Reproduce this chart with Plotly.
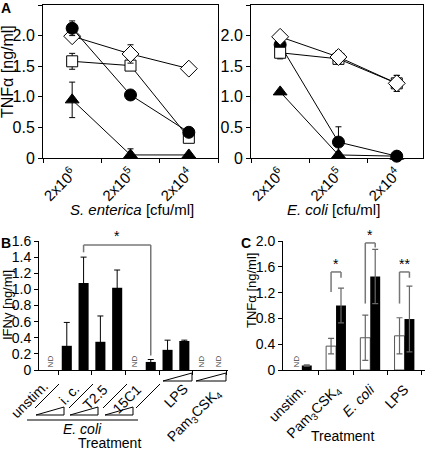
import plotly.graph_objects as go

W, H = 428, 451
FONT = "Liberation Sans"

# ---------------- data ----------------
doses = ["2x10<sup>6</sup>", "2x10<sup>5</sup>", "2x10<sup>4</sup>"]

sent_circle = [2.12, 1.03, 0.42]
sent_circle_err = [0.12, 0.06, 0.04]
sent_diamond = [1.99, 1.70, 1.46]
sent_diamond_err = [0.04, 0.15, 0.02]
sent_square = [1.58, 1.51, 0.33]
sent_square_err = [0.13, 0.05, 0.05]
sent_triangle = [0.95, 0.05, 0.05]
sent_triangle_err = [0.29, 0.10, 0.02]

ecoli_circle = [1.85, 0.26, 0.03]
ecoli_circle_err = [0.05, 0.25, 0.02]
ecoli_diamond = [1.98, 1.65, 1.22]
ecoli_diamond_err = [0.03, 0.10, 0.13]
ecoli_square = [1.72, 1.62, 1.22]
ecoli_square_err = [0.10, 0.05, 0.13]
ecoli_triangle = [1.08, 0.05, 0.03]
ecoli_triangle_err = [0.03, 0.02, 0.02]

a_yticks = [0, 0.5, 1.0, 1.5, 2.0, 2.5]
a_yticktext = ["0", "0.5", "1.0", "1.5", "2.0", "2.5"]

b_groups = ["unstim.", "i. c.", "T2.5", "15C1", "LPS", "Pam<sub>3</sub>CSK<sub>4</sub>"]
b_group_slots = [1, 2, 2, 2, 2, 2]
b_values = [None, 0.30, 1.08, 0.35, 1.02, None, 0.10, 0.25, 0.36, None, None]
b_errors = [None, 0.29, 0.32, 0.32, 0.22, None, 0.03, 0.12, 0.01, None, None]
b_nd = [0, 5, 9, 10]
b_yticks = [0, 0.2, 0.4, 0.6, 0.8, 1.0, 1.2, 1.4, 1.6]
b_yticktext = ["0", "0.2", "0.4", "0.6", "0.8", "1.0", "1.2", "1.4", "1.6"]

c_cats = ["unstim.", "Pam<sub>3</sub>CSK<sub>4</sub>", "<i>E. coli</i>", "LPS"]
c_open = [None, 0.37, 0.50, 0.53]
c_open_err = [None, 0.12, 0.35, 0.28]
c_filled = [0.07, 1.00, 1.45, 0.79]
c_filled_err = [0.01, 0.27, 0.42, 0.51]
c_sig = ["*", "*", "**"]
c_yticks = [0, 0.4, 0.8, 1.2, 1.6, 2.0]
c_yticktext = ["0", "0.4", "0.8", "1.2", "1.6", "2.0"]


def X(p):
    return p / W


def Y(p):
    return 1 - p / H


fig = go.Figure()

# ---------------- panel A ----------------
def add_series(xa, ya, y, err, symbol, fill, size):
    fig.add_trace(go.Scatter(
        x=list(range(len(y))), y=y, xaxis=xa, yaxis=ya,
        mode="lines+markers",
        line=dict(color="black", width=1),
        marker=dict(symbol=symbol, size=size, color=fill,
                    line=dict(color="black", width=1)),
        error_y=dict(type="data", array=err, color="black", thickness=1, width=3),
        showlegend=False, cliponaxis=False,
    ))

add_series("x", "y", sent_triangle, sent_triangle_err, "triangle-up", "black", 12)
add_series("x", "y", sent_square, sent_square_err, "square", "white", 11)
add_series("x", "y", sent_diamond, sent_diamond_err, "diamond", "white", 13)
add_series("x", "y", sent_circle, sent_circle_err, "circle", "black", 12)

add_series("x2", "y2", ecoli_triangle, ecoli_triangle_err, "triangle-up", "black", 12)
add_series("x2", "y2", ecoli_circle, ecoli_circle_err, "circle", "black", 12)
add_series("x2", "y2", ecoli_square, ecoli_square_err, "square", "white", 11)
add_series("x2", "y2", ecoli_diamond, ecoli_diamond_err, "diamond", "white", 13)

# ---------------- panel B ----------------
b_x = list(range(len(b_values)))
fig.add_trace(go.Bar(
    x=b_x, y=b_values, xaxis="x3", yaxis="y3", width=0.6,
    marker=dict(color="black", line=dict(width=0)),
    error_y=dict(type="data", array=b_errors, symmetric=True, color="black",
                 thickness=1, width=3),
    showlegend=False,
))

# group boundaries of panel B
b_bounds, pos = [], 0
for n in b_group_slots:
    b_bounds.append(pos + n - 0.5)
    pos += n

# ---------------- panel C ----------------
c_x = list(range(len(c_cats)))
fig.add_trace(go.Bar(
    x=c_x, y=c_open, xaxis="x4", yaxis="y4", width=0.29, offset=-0.29,
    marker=dict(color="white", line=dict(color="#555", width=1)),
    error_y=dict(type="data", array=c_open_err, color="#666", thickness=1.2, width=3),
    showlegend=False,
))
fig.add_trace(go.Bar(
    x=c_x, y=c_filled, xaxis="x4", yaxis="y4", width=0.29, offset=0,
    marker=dict(color="black", line=dict(width=0)),
    error_y=dict(type="data", array=c_filled_err, color="#666", thickness=1.2, width=3),
    showlegend=False,
))

fig.update_layout(barmode="overlay")

# ---------------- axes ----------------
def tf(size):
    return dict(family=FONT, size=size, color="black")

common = dict(showline=True, linecolor="black", linewidth=1, showgrid=False,
              zeroline=False, tickcolor="black", automargin=False)

ya_dom = [Y(158), Y(5)]
yb_dom = [Y(370), Y(241)]

fig.update_layout(
    xaxis=dict(**common, domain=[X(43), X(218)], range=[-0.5, 2.5], anchor="y",
               tickvals=[0, 1, 2], ticktext=doses, ticks="", tickangle=-45, mirror=True,
               tickfont=tf(15),
               minor=dict(tickvals=[-0.5, 0.5, 1.5, 2.5], ticks="outside", ticklen=4,
                          tickcolor="black")),
    yaxis=dict(**common, domain=ya_dom, range=[0, 2.5], anchor="x",
               tickvals=a_yticks, ticktext=a_yticktext, ticks="outside", ticklen=4,
               mirror=True, tickfont=tf(16)),
    xaxis2=dict(**common, domain=[X(251), X(423)], range=[-0.5, 2.45], anchor="y2",
                tickvals=[0, 1, 2], ticktext=doses, ticks="", tickangle=-45, mirror=True,
                tickfont=tf(15),
                minor=dict(tickvals=[-0.5, 0.5, 1.5], ticks="outside", ticklen=4,
                           tickcolor="black")),
    yaxis2=dict(**common, domain=ya_dom, range=[0, 2.5], anchor="x2",
                tickvals=a_yticks, ticktext=a_yticktext, ticks="outside", ticklen=4,
                mirror=True, tickfont=tf(16)),
    xaxis3=dict(**common, domain=[X(39), X(228)], range=[-0.655, 10.6], anchor="y3",
                showticklabels=False, ticks="",
                minor=dict(tickvals=b_bounds, ticks="outside", ticklen=4,
                           tickcolor="black")),
    yaxis3=dict(**common, domain=yb_dom, range=[0, 1.6], anchor="x3",
                tickvals=b_yticks, ticktext=b_yticktext, ticks="outside", ticklen=4,
                tickfont=tf(14)),
    xaxis4=dict(**common, domain=[X(283), X(425)], range=[-0.55, 3.6], anchor="y4",
                tickvals=c_x, ticktext=c_cats, ticks="", tickangle=-45,
                tickfont=tf(14), ticklabelstandoff=5,
                minor=dict(tickvals=[0.5, 1.5, 2.5, 3.5], ticks="outside", ticklen=4,
                           tickcolor="black")),
    yaxis4=dict(**common, domain=yb_dom, range=[0, 2.0], anchor="x4",
                tickvals=c_yticks, ticktext=c_yticktext, ticks="outside", ticklen=4,
                tickfont=tf(14)),
)

# ---------------- annotations ----------------
ann = []
def text(x, y, s, size=15, angle=0, xanchor="center", yanchor="middle", color="black",
         xref="paper", yref="paper"):
    ann.append(dict(x=x, y=y, xref=xref, yref=yref, text=s, showarrow=False,
                    textangle=angle, xanchor=xanchor, yanchor=yanchor, borderpad=0,
                    font=dict(family=FONT, size=size, color=color)))

text(X(0), Y(8), "<b>A</b>", size=14, xanchor="left")
text(X(0), Y(243), "<b>B</b>", size=14, xanchor="left")
text(X(240), Y(243), "<b>C</b>", size=14, xanchor="left")

text(X(7), Y(72), "TNFα [ng/ml]", size=16, angle=-90)
text(X(132), Y(210), "<i>S. enterica</i> [cfu/ml]")
text(X(333), Y(210), "<i>E. coli</i> [cfu/ml]")

text(X(7), Y(305), "IFNγ [ng/ml]", size=13, angle=-90)
text(X(82), Y(429), "<i>E. coli</i>", size=14)
text(X(110), Y(443), "Treatment", size=14)

text(X(251), Y(291), "TNFα [ng/ml]", size=13, angle=-90)
text(X(342), Y(436), "Treatment", size=14)

# rotated group labels of panel B (top-right corner of each label box)
b_label_corner = [(52, 377), (84, 379), (112, 380), (146, 380), (192, 380), (227, 383)]
for s, (cx, cy) in zip(b_groups, b_label_corner):
    text(X(cx), Y(cy), s, size=14, angle=-45, xanchor="right", yanchor="top")

# ND labels
for k in b_nd:
    text(k, 0.02, "ND", size=8, angle=-90, yanchor="bottom", color="#444",
         xref="x3", yref="y3")
text(-0.145, 0.02, "ND", size=8, angle=-90, yanchor="bottom", color="#444",
     xref="x4", yref="y4")

# significance stars
text(4, 1.55, "*", size=14, yanchor="bottom", xref="x3", yref="y3")
c_br = [(1, 1.21, 1.52, 1.43), (2, 1.03, 1.97, 1.90), (3, 1.03, 1.52, 1.43)]
for (k, yl, yt, yr), s in zip(c_br, c_sig):
    text(k, yt - 0.02, s, size=14, yanchor="bottom", xref="x4", yref="y4")

fig.update_layout(annotations=ann)

# ---------------- shapes ----------------
shapes = []
def line(x0, y0, x1, y1, xref, yref, color="#777", width=1.5):
    shapes.append(dict(type="line", x0=x0, y0=y0, x1=x1, y1=y1, xref=xref, yref=yref,
                       line=dict(color=color, width=width)))

# B bracket
line(2, 1.46, 2, 1.55, "x3", "y3")
line(2, 1.55, 6, 1.55, "x3", "y3")
line(6, 1.55, 6, 0.18, "x3", "y3")
# C brackets
for k, yl, yt, yr in c_br:
    line(k - 0.145, yl, k - 0.145, yt, "x4", "y4")
    line(k - 0.145, yt, k + 0.145, yt, "x4", "y4")
    line(k + 0.145, yt, k + 0.145, yr, "x4", "y4")

# slashes under B axis
for t in [59, 93, 127, 160]:
    line(X(t - 24), Y(408), X(t), Y(384), "paper", "paper", color="black", width=1)

def wedge(x0, x1, yb, yt):
    shapes.append(dict(type="path", xref="paper", yref="paper",
                       path=f"M {X(x0)},{Y(yb)} L {X(x1)},{Y(yb)} L {X(x1)},{Y(yt)} Z",
                       line=dict(color="black", width=1), fillcolor="rgba(0,0,0,0)"))

for x0 in [36, 70, 105]:
    wedge(x0, x0 + 28, 415, 407)
wedge(163, 192, 381, 373)
wedge(196, 226, 381, 373)
line(X(27), Y(420), X(138), Y(420), "paper", "paper", color="black", width=1)

fig.update_layout(shapes=shapes)

fig.update_layout(
    width=W, height=H, autosize=False,
    margin=dict(l=0, r=0, t=0, b=0),
    paper_bgcolor="white", plot_bgcolor="white",
    font=dict(family=FONT, size=14, color="black"),
)

fig.write_html("out.html", config={"displayModeBar": False},
               post_script="document.body.style.margin='0';")
